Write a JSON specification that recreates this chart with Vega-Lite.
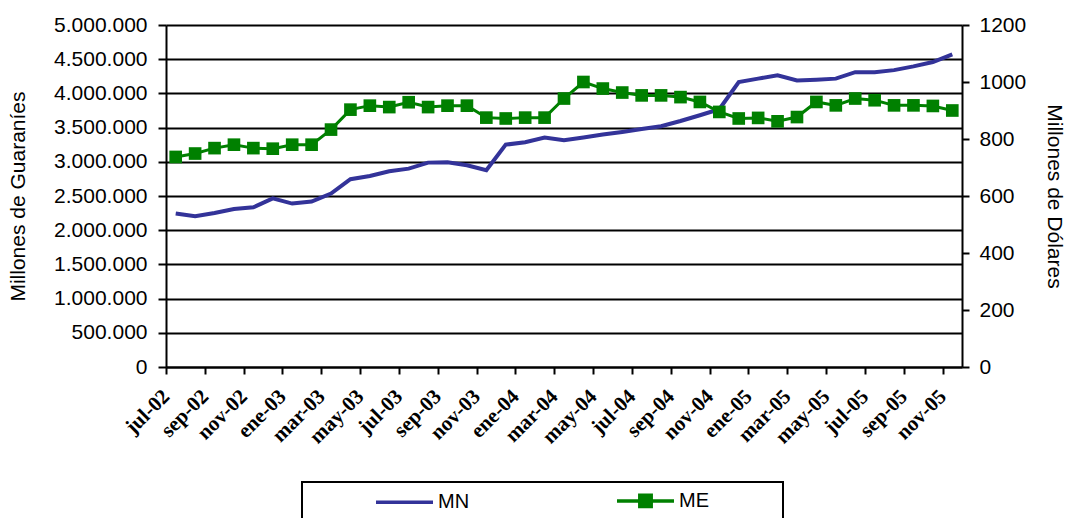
{
  "$schema": "https://vega.github.io/schema/vega-lite/v6.json",
  "width": 796,
  "height": 342,
  "autosize": {"type": "none"},
  "padding": {"left": 166, "top": 25, "right": 104, "bottom": 151},
  "config": {
    "locale": {"number": {"decimal": ",", "thousands": ".", "grouping": [3], "currency": ["$", ""]}},
    "view": {"stroke": null},
    "font": "Liberation Sans",
    "axis": {
      "domainColor": "black", "domainWidth": 2,
      "tickColor": "black", "tickWidth": 2,
      "labelColor": "black", "titleColor": "black",
      "labelFont": "Liberation Sans", "titleFont": "Liberation Sans",
      "titleFontWeight": "normal"
    }
  },
  "datasets": {
    "mn": [
      {"mes": "jul-02", "serie": "MN", "valor": 2243000},
      {"mes": "ago-02", "serie": "MN", "valor": 2203000},
      {"mes": "sep-02", "serie": "MN", "valor": 2251000},
      {"mes": "oct-02", "serie": "MN", "valor": 2310000},
      {"mes": "nov-02", "serie": "MN", "valor": 2335000},
      {"mes": "dic-02", "serie": "MN", "valor": 2465000},
      {"mes": "ene-03", "serie": "MN", "valor": 2389000},
      {"mes": "feb-03", "serie": "MN", "valor": 2418000},
      {"mes": "mar-03", "serie": "MN", "valor": 2535000},
      {"mes": "abr-03", "serie": "MN", "valor": 2745000},
      {"mes": "may-03", "serie": "MN", "valor": 2792000},
      {"mes": "jun-03", "serie": "MN", "valor": 2861000},
      {"mes": "jul-03", "serie": "MN", "valor": 2900000},
      {"mes": "ago-03", "serie": "MN", "valor": 2988000},
      {"mes": "sep-03", "serie": "MN", "valor": 2993000},
      {"mes": "oct-03", "serie": "MN", "valor": 2949000},
      {"mes": "nov-03", "serie": "MN", "valor": 2876000},
      {"mes": "dic-03", "serie": "MN", "valor": 3251000},
      {"mes": "ene-04", "serie": "MN", "valor": 3285000},
      {"mes": "feb-04", "serie": "MN", "valor": 3355000},
      {"mes": "mar-04", "serie": "MN", "valor": 3314000},
      {"mes": "abr-04", "serie": "MN", "valor": 3354000},
      {"mes": "may-04", "serie": "MN", "valor": 3398000},
      {"mes": "jun-04", "serie": "MN", "valor": 3436000},
      {"mes": "jul-04", "serie": "MN", "valor": 3480000},
      {"mes": "ago-04", "serie": "MN", "valor": 3519000},
      {"mes": "sep-04", "serie": "MN", "valor": 3596000},
      {"mes": "oct-04", "serie": "MN", "valor": 3680000},
      {"mes": "nov-04", "serie": "MN", "valor": 3768000},
      {"mes": "dic-04", "serie": "MN", "valor": 4167000},
      {"mes": "ene-05", "serie": "MN", "valor": 4216000},
      {"mes": "feb-05", "serie": "MN", "valor": 4265000},
      {"mes": "mar-05", "serie": "MN", "valor": 4190000},
      {"mes": "abr-05", "serie": "MN", "valor": 4200000},
      {"mes": "may-05", "serie": "MN", "valor": 4216000},
      {"mes": "jun-05", "serie": "MN", "valor": 4310000},
      {"mes": "jul-05", "serie": "MN", "valor": 4310000},
      {"mes": "ago-05", "serie": "MN", "valor": 4340000},
      {"mes": "sep-05", "serie": "MN", "valor": 4395000},
      {"mes": "oct-05", "serie": "MN", "valor": 4459000},
      {"mes": "nov-05", "serie": "MN", "valor": 4572000}
    ],
    "me": [
      {"mes": "jul-02", "serie": "ME", "valor": 737},
      {"mes": "ago-02", "serie": "ME", "valor": 749},
      {"mes": "sep-02", "serie": "ME", "valor": 768},
      {"mes": "oct-02", "serie": "ME", "valor": 780},
      {"mes": "nov-02", "serie": "ME", "valor": 768},
      {"mes": "dic-02", "serie": "ME", "valor": 766},
      {"mes": "ene-03", "serie": "ME", "valor": 780},
      {"mes": "feb-03", "serie": "ME", "valor": 780},
      {"mes": "mar-03", "serie": "ME", "valor": 833},
      {"mes": "abr-03", "serie": "ME", "valor": 903},
      {"mes": "may-03", "serie": "ME", "valor": 917},
      {"mes": "jun-03", "serie": "ME", "valor": 912},
      {"mes": "jul-03", "serie": "ME", "valor": 929},
      {"mes": "ago-03", "serie": "ME", "valor": 912},
      {"mes": "sep-03", "serie": "ME", "valor": 917},
      {"mes": "oct-03", "serie": "ME", "valor": 917},
      {"mes": "nov-03", "serie": "ME", "valor": 875},
      {"mes": "dic-03", "serie": "ME", "valor": 872},
      {"mes": "ene-04", "serie": "ME", "valor": 875},
      {"mes": "feb-04", "serie": "ME", "valor": 875},
      {"mes": "mar-04", "serie": "ME", "valor": 942},
      {"mes": "abr-04", "serie": "ME", "valor": 1000},
      {"mes": "may-04", "serie": "ME", "valor": 977},
      {"mes": "jun-04", "serie": "ME", "valor": 963},
      {"mes": "jul-04", "serie": "ME", "valor": 953},
      {"mes": "ago-04", "serie": "ME", "valor": 953},
      {"mes": "sep-04", "serie": "ME", "valor": 947},
      {"mes": "oct-04", "serie": "ME", "valor": 930},
      {"mes": "nov-04", "serie": "ME", "valor": 895},
      {"mes": "dic-04", "serie": "ME", "valor": 872},
      {"mes": "ene-05", "serie": "ME", "valor": 874},
      {"mes": "feb-05", "serie": "ME", "valor": 862},
      {"mes": "mar-05", "serie": "ME", "valor": 877},
      {"mes": "abr-05", "serie": "ME", "valor": 930},
      {"mes": "may-05", "serie": "ME", "valor": 918},
      {"mes": "jun-05", "serie": "ME", "valor": 942},
      {"mes": "jul-05", "serie": "ME", "valor": 936},
      {"mes": "ago-05", "serie": "ME", "valor": 918},
      {"mes": "sep-05", "serie": "ME", "valor": 918},
      {"mes": "oct-05", "serie": "ME", "valor": 916},
      {"mes": "nov-05", "serie": "ME", "valor": 900}
    ]
  },
  "encoding": {
    "x": {
      "field": "mes",
      "type": "ordinal",
      "scale": {
        "type": "point",
        "padding": 0.5,
        "domain": ["jul-02","ago-02","sep-02","oct-02","nov-02","dic-02","ene-03","feb-03","mar-03","abr-03","may-03","jun-03","jul-03","ago-03","sep-03","oct-03","nov-03","dic-03","ene-04","feb-04","mar-04","abr-04","may-04","jun-04","jul-04","ago-04","sep-04","oct-04","nov-04","dic-04","ene-05","feb-05","mar-05","abr-05","may-05","jun-05","jul-05","ago-05","sep-05","oct-05","nov-05"]
      },
      "axis": {
        "title": null,
        "values": ["jul-02","sep-02","nov-02","ene-03","mar-03","may-03","jul-03","sep-03","nov-03","ene-04","mar-04","may-04","jul-04","sep-04","nov-04","ene-05","mar-05","may-05","jul-05","sep-05","nov-05"],
        "tickOffset": -9.707,
        "labelOffset": 0,
        "tickSize": 7,
        "grid": false,
        "labelAngle": -45,
        "labelAlign": "right",
        "labelBaseline": "middle",
        "labelFont": "Liberation Serif",
        "labelFontWeight": "bold",
        "labelFontSize": 21,
        "labelPadding": 19
      }
    }
  },
  "layer": [
    {
      "data": {"name": "mn"},
      "mark": {"type": "line", "strokeWidth": 4},
      "encoding": {
        "y": {
          "field": "valor",
          "type": "quantitative",
          "scale": {"domain": [0, 5000000], "nice": false},
          "axis": {
            "title": "Millones de Guaraníes",
            "values": [0, 500000, 1000000, 1500000, 2000000, 2500000, 3000000, 3500000, 4000000, 4500000, 5000000],
            "format": ",d",
            "grid": true,
            "gridColor": "black",
            "gridWidth": 2,
            "gridOpacity": 1,
            "tickSize": 8,
            "labelPadding": 11,
            "labelFontSize": 21,
            "titleFontSize": 21,
            "titlePadding": 25
          }
        },
        "color": {
          "field": "serie",
          "type": "nominal",
          "scale": {"domain": ["MN", "ME"], "range": ["#333399", "#008000"]},
          "legend": {
            "title": null,
            "orient": "none",
            "legendX": 136,
            "legendY": 457,
            "direction": "horizontal",
            "columns": 2,
            "padding": 7,
            "strokeColor": "black",
            "symbolSize": 361,
            "symbolOffset": 84,
            "labelOffset": 22,
            "columnPadding": 14,
            "labelFont": "Liberation Sans",
            "labelFontSize": 20,
            "labelColor": "black",
            "labelExpr": "datum.label + '\u00a0\u00a0\u00a0\u00a0\u00a0\u00a0\u00a0\u00a0\u00a0\u00a0\u00a0\u00a0\u200b'",
            "encode": {
              "symbols": {
                "update": {
                  "shape": {"signal": "datum.value === 'ME' ? 'M-3,0H3M-0.6,-0.6H0.6V0.6H-0.6Z' : 'M-3,0H3'"},
                  "fill": {"signal": "scale('color', datum.value)"},
                  "stroke": {"signal": "scale('color', datum.value)"},
                  "strokeWidth": {"value": 3.5}
                }
              },
              "legend": {"update": {"strokeWidth": {"value": 2}}}
            }
          }
        }
      }
    },
    {
      "data": {"name": "me"},
      "encoding": {
        "y": {
          "field": "valor",
          "type": "quantitative",
          "scale": {"domain": [0, 1200], "nice": false},
          "axis": {
            "orient": "right",
            "title": "Millones de Dólares",
            "values": [0, 200, 400, 600, 800, 1000, 1200],
            "format": "d",
            "grid": false,
            "tickSize": 7,
            "labelPadding": 10,
            "labelFontSize": 21,
            "titleFontSize": 21,
            "titlePadding": 18
          }
        }
      },
      "layer": [
        {"mark": {"type": "line", "strokeWidth": 3, "color": "#008000"}},
        {"mark": {"type": "point", "shape": "square", "filled": true, "size": 160, "color": "#008000", "opacity": 1}}
      ]
    }
  ],
  "resolve": {"scale": {"y": "independent"}}
}
